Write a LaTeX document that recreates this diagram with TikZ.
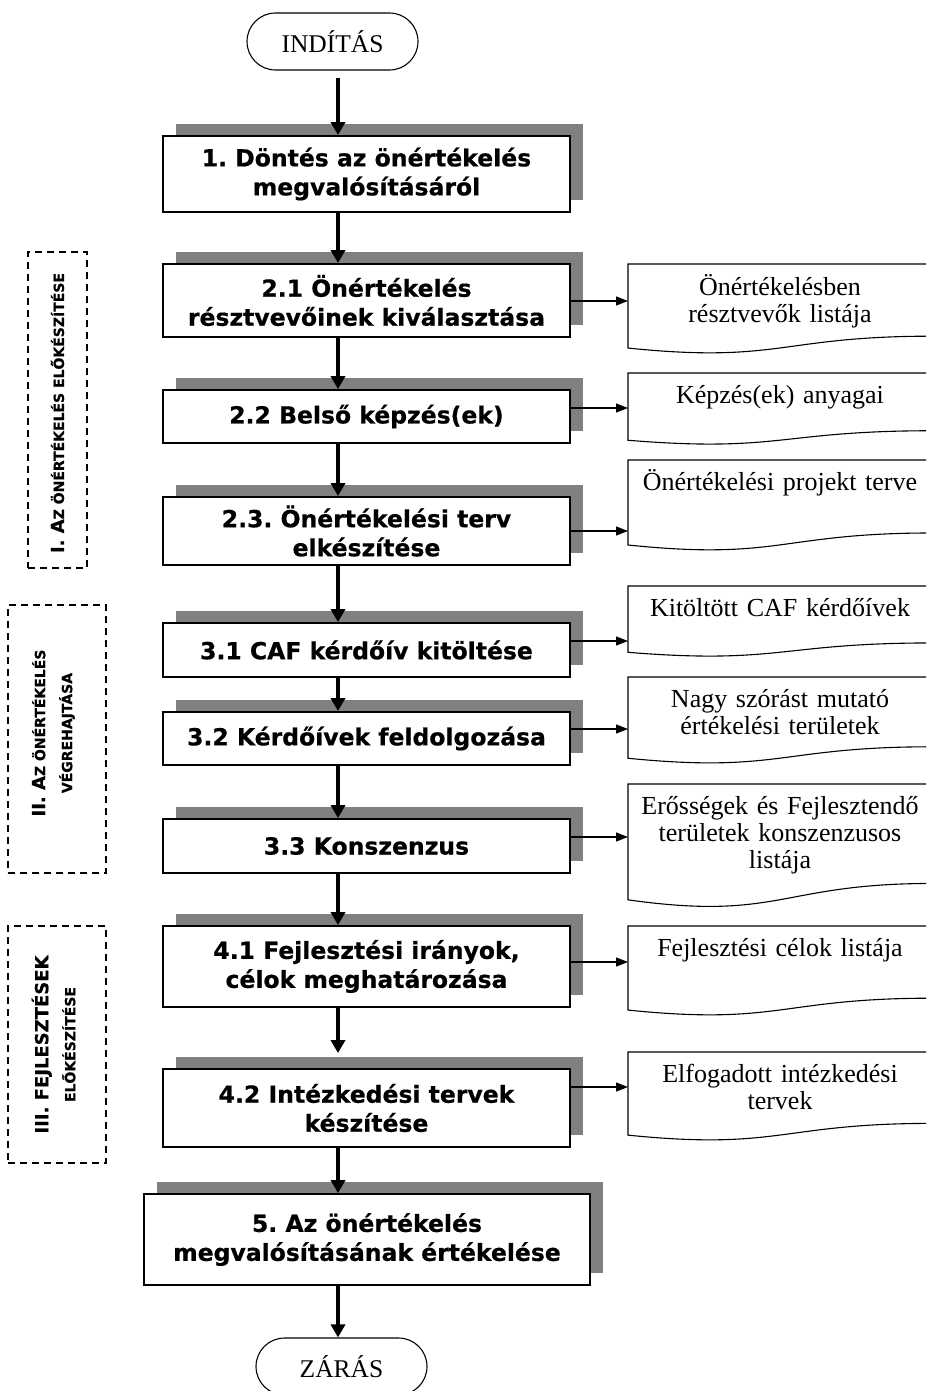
\documentclass[tikz,border=0pt]{standalone}
\usepackage{fontspec}
\setmainfont{Liberation Serif}
\newfontfamily\vb{DejaVu Sans}[BoldFeatures={FakeBold=0.6}]
\usetikzlibrary{arrows.meta,shadows}
\frenchspacing
\definecolor{shgray}{RGB}{128,128,128}
\newcommand\sm[1]{{\fontsize{14}{15}\selectfont #1}}
\newcommand\docpath[2]{%
  \draw[docline] (628,#1) -- (932,#1) -- (932,{#1+0.802*#2})
    .. controls (780,{#1+0.802*#2}) and (780,{#1+1.107*#2}) .. (628,{#1+0.934*#2}) -- cycle;}
\begin{document}
\begin{tikzpicture}[x=1pt,y=-1pt,
  mbox/.style={draw, line width=1.8pt, fill=white, minimum width=407pt, align=center,
    inner sep=0pt, font=\vb\bfseries\fontsize{23.5}{29}\selectfont,
    drop shadow={shadow xshift=13pt, shadow yshift=12pt, fill=shgray, opacity=1}},
  marrow/.style={line width=3.6pt, -{Triangle[length=13pt,width=14pt]}},
  sarrow/.style={line width=1.2pt, -{Triangle[length=12pt,width=9pt]}},
  docline/.style={line width=1.1pt, fill=white},
  dtext/.style={font=\fontsize{26}{27}\selectfont, text width=300pt, align=center,
    inner sep=0pt, anchor=base},
  term/.style={draw, line width=1.1pt, rounded corners=28.5pt, minimum width=171pt,
    minimum height=57pt, inner sep=0pt, font=\fontsize{25.5}{27}\selectfont},
  lbox/.style={draw, dashed, dash pattern=on 7pt off 5pt, line width=1.3pt, inner sep=0pt},
  lab/.style={rotate=90, align=center, font=\vb\bfseries\fontsize{18}{27}\selectfont, inner sep=0pt}]
\useasboundingbox (0,0) rectangle (926,1391);
\clip (0,0) rectangle (926,1391);
\fill[white] (0,0) rectangle (926,1391);

% axis of the main arrows
\coordinate (ax) at (338,0);

% terminals
\node[term] (start) at (332.5,41.5) {INDÍTÁS};
\node[term] (end) at (341.5,1366.5) {ZÁRÁS};

% main boxes
\node[mbox, minimum height=76pt] (b1) at (366.5,174) {1. Döntés az önértékelés\\megvalósításáról};
\node[mbox, minimum height=73pt] (b21) at (366.5,300.5) {2.1 Önértékelés\\résztvevőinek kiválasztása};
\node[mbox, minimum height=53pt] (b22) at (366.5,416.5) {2.2 Belső képzés(ek)};
\node[mbox, minimum height=68pt] (b23) at (366.5,531) {2.3. Önértékelési terv\\elkészítése};
\node[mbox, minimum height=54pt] (b31) at (366.5,650) {3.1 CAF kérdőív kitöltése};
\node[mbox, minimum height=53pt] (b32) at (366.5,738.5) {3.2 Kérdőívek feldolgozása};
\node[mbox, minimum height=54pt] (b33) at (366.5,846) {3.3 Konszenzus};
\node[mbox, minimum height=81pt] (b41) at (366.5,966.5) {4.1 Fejlesztési irányok,\\célok meghatározása};
\node[mbox, minimum height=78pt] (b42) at (366.5,1108) {4.2 Intézkedési tervek\\készítése};
\node[mbox, minimum height=91pt, minimum width=446pt] (b5) at (367,1239.5) {5. Az önértékelés\\megvalósításának értékelése};

% documents
\docpath{264}{90}
\node[dtext] (d1) at (780,295) {Önértékelésben\\résztvevők listája};
\coordinate (d1in) at (628,301);
\docpath{373}{72}
\node[dtext] (d2) at (780,403) {Képzés(ek) anyagai};
\coordinate (d2in) at (628,408);
\docpath{460}{91}
\node[dtext] (d3) at (780,490) {Önértékelési projekt terve};
\coordinate (d3in) at (628,531);
\docpath{586}{71}
\node[dtext] (d4) at (780,616) {Kitöltött CAF kérdőívek};
\coordinate (d4in) at (628,641);
\docpath{677}{87}
\node[dtext] (d5) at (780,707) {Nagy szórást mutató\\értékelési területek};
\coordinate (d5in) at (628,729);
\docpath{784}{124}
\node[dtext] (d6) at (780,814) {Erősségek és Fejlesztendő\\területek konszenzusos\\listája};
\coordinate (d6in) at (628,837);
\docpath{926}{90}
\node[dtext] (d7) at (780,956) {Fejlesztési célok listája};
\coordinate (d7in) at (628,962);
\docpath{1052}{89}
\node[dtext] (d8) at (780,1082) {Elfogadott intézkedési\\tervek};
\coordinate (d8in) at (628,1087);

% main flow
\draw[marrow, shorten <=7pt] (start.south -| ax) -- (b1.north -| ax);
\draw[marrow] (b1.south -| ax) -- (b21.north -| ax);
\draw[marrow] (b21.south -| ax) -- (b22.north -| ax);
\draw[marrow] (b22.south -| ax) -- (b23.north -| ax);
\draw[marrow] (b23.south -| ax) -- (b31.north -| ax);
\draw[marrow] (b31.south -| ax) -- (b32.north -| ax);
\draw[marrow] (b32.south -| ax) -- (b33.north -| ax);
\draw[marrow] (b33.south -| ax) -- (b41.north -| ax);
\draw[marrow, shorten >=15pt] (b41.south -| ax) -- (b42.north -| ax);
\draw[marrow] (b42.south -| ax) -- (b5.north -| ax);
\draw[marrow] (b5.south -| ax) -- (end.north -| ax);

% outputs
\draw[sarrow] (b21.east |- d1in) -- (d1in);
\draw[sarrow] (b22.east |- d2in) -- (d2in);
\draw[sarrow] (b23.east |- d3in) -- (d3in);
\draw[sarrow] (b31.east |- d4in) -- (d4in);
\draw[sarrow] (b32.east |- d5in) -- (d5in);
\draw[sarrow] (b33.east |- d6in) -- (d6in);
\draw[sarrow] (b41.east |- d7in) -- (d7in);
\draw[sarrow] (b42.east |- d8in) -- (d8in);

% phase groups
\node[lbox, minimum width=59pt, minimum height=316pt] (g1) at (57.5,410) {};
\node[lab] (l1) at ([yshift=-3pt]g1.center) {I. A\sm{Z ÖNÉRTÉKELÉS ELŐKÉSZÍTÉSE}};
\node[lbox, minimum width=98pt, minimum height=268pt] (g2) at (57,739) {};
\node[lab] (l2) at ([xshift=-3.5pt,yshift=6pt]g2.center) {II. A\sm{Z ÖNÉRTÉKELÉS}\\\sm{VÉGREHAJTÁSA}};
\node[lbox, minimum width=98pt, minimum height=237pt] (g3) at (57,1044.5) {};
\node[lab] (l3) at ([xshift=-3.5pt]g3.center) {III. FEJLESZTÉSEK\\\sm{ELŐKÉSZÍTÉSE}};
\end{tikzpicture}
\end{document}
